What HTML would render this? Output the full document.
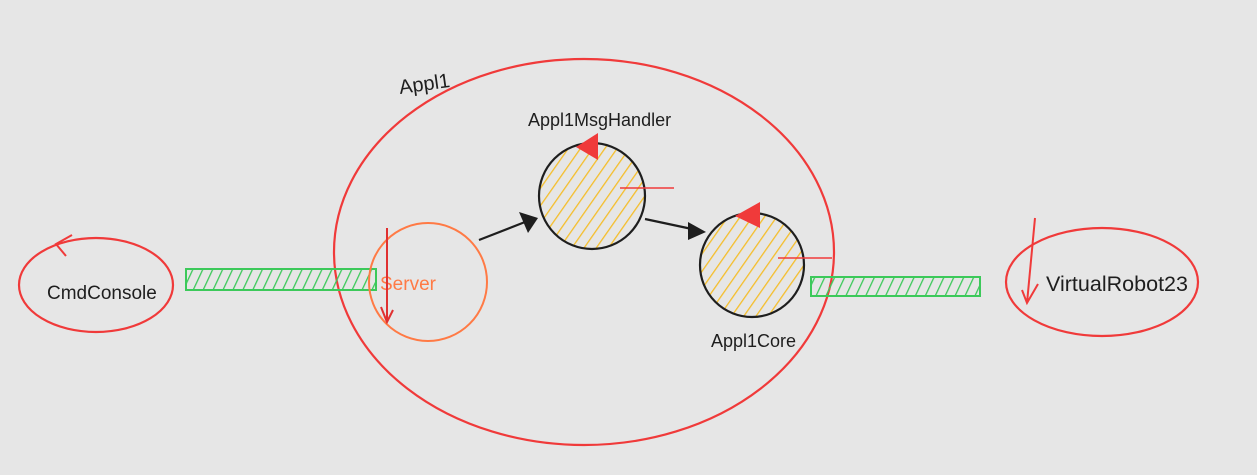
<!DOCTYPE html>
<html><head><meta charset="utf-8"><style>
html,body{margin:0;padding:0;background:#e6e6e6;}
svg{display:block;}
text{font-family:"Liberation Sans",sans-serif;}
</style></head><body>
<svg width="1257" height="475" viewBox="0 0 1257 475" xmlns="http://www.w3.org/2000/svg">
<defs>
<pattern id="yh" patternUnits="userSpaceOnUse" width="10" height="10" patternTransform="rotate(35)">
<line x1="0" y1="0" x2="0" y2="10" stroke="#f5be2a" stroke-width="2.6"/>
</pattern>
<pattern id="gh" patternUnits="userSpaceOnUse" width="9" height="9" patternTransform="rotate(25)">
<line x1="0" y1="0" x2="0" y2="9" stroke="#3cc95a" stroke-width="2.6"/>
</pattern>
</defs>
<rect width="1257" height="475" fill="#e6e6e6"/>
<ellipse cx="584" cy="252" rx="250" ry="193" fill="none" stroke="#f03a3a" stroke-width="2.2"/>
<text x="400" y="94" font-size="20" fill="#1e1e1e" transform="rotate(-8 400 94)">Appl1</text>
<ellipse cx="96" cy="285" rx="77" ry="47" fill="none" stroke="#f03a3a" stroke-width="2.2"/>
<path d="M72 235 L56 244 L66 256" fill="none" stroke="#f03a3a" stroke-width="2"/>
<text x="47" y="299" font-size="19" fill="#1e1e1e">CmdConsole</text>
<rect x="186" y="269" width="190" height="21" fill="url(#gh)" stroke="#3cc95a" stroke-width="2"/>
<rect x="811" y="277" width="169" height="19" fill="url(#gh)" stroke="#3cc95a" stroke-width="2"/>
<circle cx="428" cy="282" r="59" fill="none" stroke="#ff7a45" stroke-width="2"/>
<text x="380" y="290" font-size="19" fill="#ff7a45">Server</text>
<path d="M387 228 L387 322 M381 307 L387 322 L393 310" fill="none" stroke="#e03030" stroke-width="2"/>
<line x1="479" y1="240" x2="525" y2="222" stroke="#1e1e1e" stroke-width="2.2"/>
<path d="M519 212 L538 218 L528 233 Z" fill="#1e1e1e"/>
<line x1="645" y1="219" x2="692" y2="229" stroke="#1e1e1e" stroke-width="2.2"/>
<path d="M688 222 L706 232 L688 240 Z" fill="#1e1e1e"/>
<circle cx="592" cy="196" r="53" fill="url(#yh)" stroke="#1e1e1e" stroke-width="2.2"/>
<path d="M576 147 L598 133 L598 160 Z" fill="#f03a3a"/>
<line x1="620" y1="188" x2="674" y2="188" stroke="#f03a3a" stroke-width="1.6"/>
<text x="528" y="126" font-size="18" fill="#1e1e1e">Appl1MsgHandler</text>
<circle cx="752" cy="265" r="52" fill="url(#yh)" stroke="#1e1e1e" stroke-width="2.2"/>
<path d="M735 216 L760 202 L760 228 Z" fill="#f03a3a"/>
<line x1="778" y1="258" x2="832" y2="258" stroke="#f03a3a" stroke-width="1.6"/>
<text x="711" y="347" font-size="18" fill="#1e1e1e">Appl1Core</text>
<ellipse cx="1102" cy="282" rx="96" ry="54" fill="none" stroke="#f03a3a" stroke-width="2.2"/>
<path d="M1035 218 L1027 303 M1022 290 L1027 303 L1038 284" fill="none" stroke="#f03a3a" stroke-width="2"/>
<text x="1046" y="291" font-size="21" fill="#1e1e1e" textLength="142" lengthAdjust="spacingAndGlyphs">VirtualRobot23</text>
</svg>
</body></html>
